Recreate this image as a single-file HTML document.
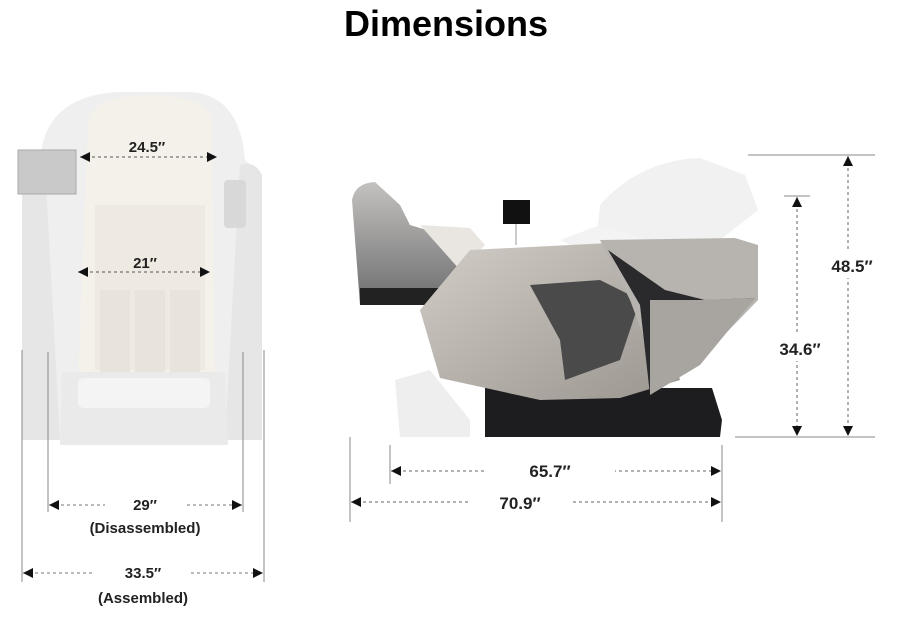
<!DOCTYPE html>
<html><head><meta charset="utf-8"><style>
html,body{margin:0;padding:0;background:#fff;}
svg{display:block}
text{font-family:"Liberation Sans",Arial,sans-serif;font-weight:bold;fill:#222;}
</style></head><body>
<svg width="900" height="628" viewBox="0 0 900 628" xmlns="http://www.w3.org/2000/svg">
<defs>
<marker id="a" viewBox="0 0 10 10" refX="10" refY="5" markerWidth="10" markerHeight="10" orient="auto-start-reverse" markerUnits="userSpaceOnUse"><path d="M0,0 L10,5 L0,10 Z" fill="#111"/></marker>
<linearGradient id="g1" x1="0" y1="0" x2="1" y2="1"><stop offset="0" stop-color="#d2cdc6"/><stop offset="1" stop-color="#9a958f"/></linearGradient>
<linearGradient id="g2" x1="0" y1="0" x2="0" y2="1"><stop offset="0" stop-color="#c4c2c0"/><stop offset="1" stop-color="#6d6d6e"/></linearGradient>
</defs>
<text x="446" y="36" font-size="36" text-anchor="middle" fill="#000" style="fill:#000">Dimensions</text>

<!-- left chair -->
<path d="M40,160 Q45,95 120,92 L190,92 Q240,95 245,160 L262,175 L262,440 L22,440 L22,190 Z" fill="#efefef"/>
<path d="M22,175 Q28,160 45,165 L60,440 L22,440 Z" fill="#e6e6e6"/>
<path d="M262,175 Q255,160 240,165 L225,440 L262,440 Z" fill="#e6e6e6"/>
<path d="M88,120 Q95,95 150,95 Q205,95 212,120 L215,380 L78,380 Z" fill="#f4f1ea"/>
<path d="M95,205 L205,205 L205,370 L95,370 Z" fill="#eeeae2"/>
<path d="M100,290 L130,290 L130,380 L100,380 Z M135,290 L165,290 L165,380 L135,380 Z M170,290 L200,290 L200,380 L170,380 Z" fill="#e8e4dc"/>
<path d="M62,372 L225,372 L228,445 L60,445 Z" fill="#eaeaea"/>
<rect x="78" y="378" width="132" height="30" rx="6" fill="#f4f4f4"/>
<rect x="18" y="150" width="58" height="44" fill="#c9c9c9" stroke="#aaa"/>
<rect x="224" y="180" width="22" height="48" rx="4" fill="#d8d8d8"/>

<!-- left dims -->
<line x1="80" y1="157" x2="217" y2="157" stroke="#555" stroke-dasharray="3,3" marker-start="url(#a)" marker-end="url(#a)"/>
<text x="147" y="152" font-size="15" text-anchor="middle">24.5″</text>
<line x1="78" y1="272" x2="210" y2="272" stroke="#555" stroke-dasharray="3,3" marker-start="url(#a)" marker-end="url(#a)"/>
<text x="145" y="268" font-size="15" text-anchor="middle">21″</text>
<g stroke="#888" stroke-width="1">
<line x1="48" y1="352" x2="48" y2="512"/><line x1="243" y1="352" x2="243" y2="512"/>
<line x1="22" y1="350" x2="22" y2="582"/><line x1="264" y1="350" x2="264" y2="582"/>
<line x1="390" y1="445" x2="390" y2="484"/><line x1="350" y1="437" x2="350" y2="522"/><line x1="722" y1="445" x2="722" y2="522"/>
<line x1="748" y1="155" x2="875" y2="155"/><line x1="784" y1="196" x2="810" y2="196"/><line x1="735" y1="437" x2="875" y2="437"/>
</g>
<line x1="49" y1="505" x2="242" y2="505" stroke="#777" stroke-dasharray="3,3" marker-start="url(#a)" marker-end="url(#a)"/>
<rect x="105" y="495" width="80" height="20" fill="#fff"/>
<text x="145" y="510" font-size="15" text-anchor="middle">29″</text>
<text x="145" y="533" font-size="15" text-anchor="middle">(Disassembled)</text>
<line x1="23" y1="573" x2="263" y2="573" stroke="#777" stroke-dasharray="3,3" marker-start="url(#a)" marker-end="url(#a)"/>
<rect x="95" y="563" width="95" height="20" fill="#fff"/>
<text x="143" y="578" font-size="15" text-anchor="middle">33.5″</text>
<text x="143" y="603" font-size="15" text-anchor="middle">(Assembled)</text>

<!-- right chair -->
<path d="M600,205 Q640,160 700,158 L745,175 L758,210 L720,240 L640,255 L598,225 Z" fill="#f1f1f1"/>
<path d="M560,240 L600,225 L650,240 L600,260 Z" fill="#f3f3f3"/>
<path d="M395,380 L430,370 L470,420 L470,437 L400,437 Z" fill="#eeeeee"/>
<path d="M352,200 Q355,183 375,182 L400,205 L410,225 L460,240 L470,290 L440,305 L360,305 Z" fill="url(#g2)"/>
<rect x="360" y="288" width="80" height="17" fill="#222"/>
<path d="M420,225 L470,228 L485,245 L460,270 Z" fill="#e9e6e1"/>
<rect x="503" y="200" width="27" height="24" fill="#111"/>
<line x1="516" y1="224" x2="516" y2="245" stroke="#999"/>
<path d="M485,388 L712,388 L722,420 L720,437 L485,437 Z" fill="#1d1d1f"/>
<path d="M470,250 L610,243 L650,275 L680,380 L620,398 L540,400 L440,378 L420,310 Z" fill="url(#g1)"/>
<path d="M530,285 L600,280 L640,300 L620,360 L565,380 L560,340 Z" fill="#4a4a4b"/>
<path d="M600,240 L735,238 L758,245 L758,300 L700,360 L660,380 L630,300 Z" fill="#b7b3ae"/>
<path d="M608,250 L640,305 L650,395 L700,360 L755,298 L705,300 L665,290 Z" fill="#2a2a2c"/>
<path d="M650,300 L700,300 L755,298 L700,365 L650,395 Z" fill="#a8a4a0"/>

<!-- right dims -->
<line x1="848" y1="156" x2="848" y2="436" stroke="#666" stroke-dasharray="3,3" marker-start="url(#a)" marker-end="url(#a)"/>
<rect x="825" y="252" width="50" height="26" fill="#fff"/>
<text x="852" y="272" font-size="17" text-anchor="middle">48.5″</text>
<line x1="797" y1="197" x2="797" y2="436" stroke="#666" stroke-dasharray="3,3" marker-start="url(#a)" marker-end="url(#a)"/>
<rect x="772" y="335" width="52" height="26" fill="#fff"/>
<text x="800" y="355" font-size="17" text-anchor="middle">34.6″</text>
<line x1="391" y1="471" x2="721" y2="471" stroke="#666" stroke-dasharray="3,3" marker-start="url(#a)" marker-end="url(#a)"/>
<rect x="485" y="460" width="130" height="24" fill="#fff"/>
<text x="550" y="477" font-size="17" text-anchor="middle">65.7″</text>
<line x1="351" y1="502" x2="721" y2="502" stroke="#666" stroke-dasharray="3,3" marker-start="url(#a)" marker-end="url(#a)"/>
<rect x="470" y="491" width="100" height="24" fill="#fff"/>
<text x="520" y="509" font-size="17" text-anchor="middle">70.9″</text>
</svg>
</body></html>
